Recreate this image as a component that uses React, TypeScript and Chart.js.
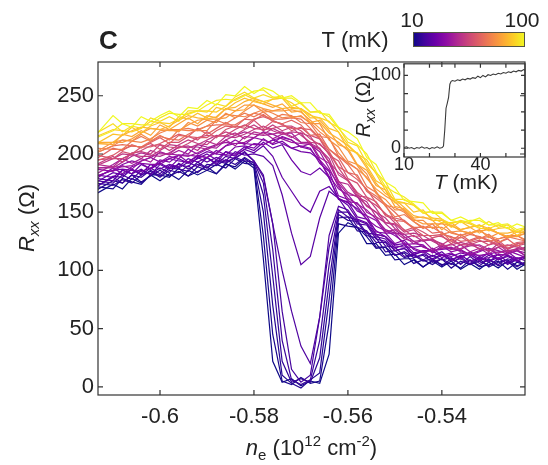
import React, { useEffect, useRef } from "react";
import { Chart, registerables } from "chart.js";

Chart.register(...registerables);

const FONT = '"Liberation Sans", Arial, Helvetica, sans-serif';
const TEXT = "#222222";
const AXIS = "#333333";

// ---------- data ----------
const NE = [
  -0.6135, -0.61, -0.608, -0.606, -0.604, -0.602, -0.6, -0.598, -0.596, -0.594,
  -0.592, -0.59, -0.588, -0.586, -0.584, -0.582, -0.58, -0.578, -0.576, -0.574,
  -0.572, -0.57, -0.568, -0.566, -0.564, -0.562, -0.56, -0.558, -0.556, -0.554,
  -0.552, -0.55, -0.548, -0.546, -0.544, -0.542, -0.54, -0.538, -0.536, -0.534,
  -0.532, -0.53, -0.528, -0.526, -0.524, -0.522,
];

const TEMPS = [10, 12, 14, 16, 18, 20, 22, 24, 26, 28, 30, 32, 35, 37, 40, 42, 45, 47, 50, 52, 55, 58, 61, 64, 67, 70, 73, 76, 79, 82, 85, 88, 91, 94, 97, 100];

const R10 = [166,174,170,179,175,182,177,183,178,186,182,186,183,192,187,194,188,110,22,4,7,1,5,3,28,132,141,137,123,123,113,114,105,109,103,108,103,108,101,106,101,107,102,108,101,106];
const R12 = [172,170,179,176,174,182,182,180,188,181,185,189,183,191,189,196,190,130,45,5,2,8,3,5,55,140,138,137,129,119,120,109,110,110,103,109,105,106,102,109,103,105,108,101,107,104];
const R14 = [169,177,175,182,176,181,186,181,185,181,189,186,191,188,196,192,191,150,70,10,3,-1,6,12,75,145,146,134,133,120,120,113,115,106,109,105,110,102,108,105,110,103,107,109,104,107];
const R16 = [175,173,178,175,182,185,180,186,184,190,184,191,190,195,191,197,192,165,95,22,4,7,4,25,90,148,143,142,130,128,116,117,111,113,108,110,104,110,106,109,104,110,104,107,103,108];
const R18 = [172,180,175,182,180,186,181,188,187,185,193,188,194,192,197,194,193,175,118,40,6,2,6,40,105,150,150,137,134,124,124,113,116,111,113,107,110,105,112,105,108,104,110,106,109,104];
const R20 = [177,175,182,178,186,183,188,184,192,187,191,188,195,193,197,201,194,182,140,65,15,4,10,60,120,152,146,143,132,131,121,120,112,114,109,113,109,111,105,112,106,109,105,110,108,105];
const R22 = [172,181,180,187,182,188,183,190,188,193,189,197,191,198,196,202,194,180,140,100,65,35,20,60,130,155,152,140,139,127,125,117,119,111,114,110,114,108,110,106,112,108,111,105,110,112];
const R24 = [179,177,186,183,187,182,191,187,191,189,197,193,197,194,202,199,200,198,190,165,132,105,112,145,168,162,150,143,140,129,127,117,119,114,116,109,113,109,113,108,111,107,114,107,111,108];
const R26 = [176,184,182,187,183,191,187,191,189,196,193,197,192,202,198,204,201,207,198,180,168,156,150,168,172,162,156,144,141,131,129,119,122,113,117,112,116,109,112,114,108,113,109,113,108,111];
const R28 = [182,180,186,183,191,187,192,188,196,192,196,200,195,202,200,206,203,210,205,208,195,185,182,188,180,161,159,146,144,131,129,122,123,115,117,117,111,114,111,115,110,115,109,112,108,113];
const R30 = [181,186,187,186,185,188,193,196,194,193,198,202,200,199,199,204,209,208,212,209,205,202,201,195,179,162,158,153,144,134,129,121,120,120,121,116,113,112,115,113,109,111,114,113,110,112];
const R32 = [179,188,183,189,192,187,195,193,199,193,199,197,203,199,206,207,205,213,208,211,205,207,205,192,185,164,161,151,147,133,132,123,126,118,115,119,113,115,110,116,112,115,110,116,110,113];
const R35 = [181,186,191,194,192,191,191,196,199,199,198,197,201,207,209,209,208,208,212,214,212,206,204,194,181,170,165,155,144,138,134,130,124,119,116,117,118,119,117,114,113,114,116,117,114,111];
const R37 = [187,185,190,187,194,197,193,198,196,204,200,204,200,207,212,208,214,212,209,215,212,206,209,195,186,174,159,158,147,143,132,132,122,123,122,115,121,116,118,113,116,119,113,114,117,112];
const R40 = [188,189,189,190,194,197,201,200,199,198,201,205,208,210,209,210,214,219,217,213,210,209,208,202,188,172,162,157,152,144,135,132,131,125,120,117,119,120,116,114,117,119,117,114,117,115];
const R42 = [183,191,196,192,196,193,202,199,203,200,208,206,205,212,207,215,214,219,213,217,218,210,210,197,192,175,165,164,150,146,133,135,129,123,126,118,122,118,122,116,119,114,120,115,118,112];
const R45 = [188,188,193,198,201,199,198,201,206,206,206,204,207,212,216,219,217,216,217,219,215,210,209,205,193,177,167,163,156,150,140,133,127,125,126,126,123,118,119,121,122,118,115,117,118,120];
const R47 = [191,189,196,200,196,203,200,200,206,207,203,211,208,215,218,213,219,217,222,218,214,218,208,204,196,176,174,163,159,146,141,139,128,130,125,127,119,123,118,123,121,116,123,116,119,117];
const R50 = [190,196,200,199,198,198,203,208,207,205,208,212,216,215,214,217,221,224,220,217,219,218,215,204,193,184,178,166,155,150,145,136,131,132,130,125,121,122,124,122,119,117,120,122,120,118];
const R52 = [191,198,193,201,202,200,208,203,208,212,209,208,215,219,216,221,225,220,225,220,223,216,210,209,200,182,177,164,163,153,141,140,133,135,126,127,122,127,122,124,118,122,124,118,122,117];
const R55 = [195,196,196,200,203,207,208,206,205,209,214,216,215,216,221,225,222,221,222,224,224,220,213,208,201,188,177,167,161,156,149,141,135,129,130,130,129,125,122,122,125,125,121,119,121,123];
const R58 = [199,196,202,200,206,209,204,210,210,215,212,219,214,221,224,222,229,222,228,226,220,223,216,213,199,194,179,175,163,159,147,144,134,137,133,128,130,123,129,124,126,122,126,119,123,124];
const R61 = [194,199,204,207,206,206,209,213,217,215,214,214,220,224,223,224,230,232,229,225,222,222,221,213,202,189,184,178,170,158,148,145,143,136,130,130,131,129,125,126,129,126,122,121,124,125];
const R64 = [196,205,203,208,205,210,214,209,216,215,222,217,222,227,223,230,229,234,228,226,229,225,216,217,204,197,184,182,168,162,156,143,142,136,138,132,133,125,131,125,128,129,124,127,121,125];
const R67 = [201,207,208,207,206,211,215,213,212,217,221,224,225,225,225,230,235,233,230,230,231,230,222,214,204,198,191,180,169,164,157,150,142,137,137,137,132,128,128,131,129,125,127,129,127,125];
const R70 = [205,204,204,211,215,211,216,212,221,222,220,220,229,226,231,235,232,236,230,234,233,227,226,215,214,198,193,187,172,167,155,146,148,142,136,140,131,133,130,133,127,131,124,128,130,125];
const R73 = [201,207,212,211,210,213,218,221,221,220,220,224,229,234,233,232,235,238,235,231,232,232,227,219,213,201,192,187,180,168,156,154,150,142,137,137,137,132,130,132,134,130,127,130,130,126];
const R76 = [202,210,212,211,217,212,220,221,219,227,224,229,227,235,231,237,242,236,237,239,231,233,226,226,212,206,194,191,183,166,161,152,152,143,143,136,141,133,134,132,135,128,132,128,130,132];
const R79 = [210,210,210,213,218,222,221,220,220,225,229,230,230,231,237,242,242,239,237,237,238,236,229,222,215,210,203,190,179,170,164,159,151,144,140,140,140,139,134,132,134,135,132,129,129,132];
const R82 = [209,208,217,215,220,216,225,221,226,231,226,233,231,239,237,238,246,243,240,243,236,237,227,229,220,208,205,191,186,173,169,155,153,145,146,143,135,141,135,137,132,137,132,129,133,132];
const R85 = [209,210,216,220,223,222,221,224,229,233,231,230,232,239,240,245,248,245,242,239,240,239,234,227,218,213,207,200,188,175,166,161,154,147,145,145,144,138,135,137,139,136,132,132,134,132];
const R88 = [209,217,216,223,218,224,227,223,232,230,235,231,240,238,244,248,245,243,247,248,239,239,231,231,222,219,204,201,190,177,172,158,158,150,152,143,143,137,142,137,139,134,136,137,130,135];
const R91 = [215,221,220,219,222,228,227,226,230,235,237,237,236,241,247,251,247,245,247,248,244,238,233,231,228,219,208,200,195,183,169,160,158,156,150,145,141,141,142,140,136,136,139,136,133,136];
const R94 = [218,226,219,224,222,231,228,232,228,237,237,236,243,241,249,253,248,251,248,250,241,244,236,237,227,223,210,207,192,184,176,161,161,156,149,151,144,140,143,141,137,142,137,139,133,137];
const R97 = [214,220,226,226,225,225,231,235,234,234,237,242,246,247,246,250,254,255,249,248,248,243,236,236,232,222,213,208,200,185,172,167,163,157,150,150,150,143,141,143,143,139,139,140,135,137];
const R100 = [217,233,226,223,232,228,233,237,232,240,239,246,242,251,250,258,252,257,254,248,250,244,244,235,234,223,219,213,197,191,176,171,160,159,158,149,149,143,146,142,145,139,141,136,140,137];

const SERIES = [R10, R12, R14, R16, R18, R20, R22, R24, R26, R28, R30, R32, R35, R37, R40, R42, R45, R47, R50, R52, R55, R58, R61, R64, R67, R70, R73, R76, R79, R82, R85, R88, R91, R94, R97, R100];

const X_TICKS = [-0.6, -0.58, -0.56, -0.54];
const X_TICK_LABELS = ["-0.6", "-0.58", "-0.56", "-0.54"];
const Y_TICKS = [0, 50, 100, 150, 200, 250];
const Y_TICK_LABELS = ["0", "50", "100", "150", "200", "250"];

const T_MIN = 10;
const T_MAX = 100;

// inset: R_xx at the dip centre vs temperature
const INSET_T = [10,11,12,13,14,15,16,17,18,19,20,21,22,23,24,25,25.5,26,26.5,27,27.5,28,28.5,29,30,31,32,33,34,35,36,37,38,39,40,41,42,43,44,45,46,47,48,49,50,51,52,53,54,55,56,57,57.5];
const INSET_R = [1,2,0,1,-1,1,0,2,0,1,-1,1,0,2,0,1,3,25,55,62,70,88,92,93,92,94,93,95,94,96,95,97,96,99,97,100,98,101,100,102,101,103,102,104,103,105,104,106,105,107,106,108,107];
const INSET_X_TICKS = [10, 40];
const INSET_X_MINOR = [20, 30, 50];
const INSET_Y_TICKS = [0, 100];
const INSET_Y_MINOR = [25, 50, 75];

// ---------- colour map ----------
const PLASMA = ["#0d0887", "#41049d", "#6a00a8", "#8f0da4", "#b12a90", "#cc4778", "#e16462", "#f2844b", "#fca636", "#fcce25", "#f0f921"];

function hexToRgb(h: string) {
  const n = parseInt(h.slice(1), 16);
  return [(n >> 16) & 255, (n >> 8) & 255, n & 255];
}
function plasma(t: number) {
  const c = Math.max(0, Math.min(1, t)) * (PLASMA.length - 1);
  const i = Math.min(PLASMA.length - 2, Math.floor(c));
  const f = c - i;
  const a = hexToRgb(PLASMA[i]);
  const b = hexToRgb(PLASMA[i + 1]);
  const m = a.map((v, k) => Math.round(v + (b[k] - v) * f));
  return `rgb(${m[0]},${m[1]},${m[2]})`;
}

// ---------- text helper ----------
type Part = { t: string; size: number; italic?: boolean; bold?: boolean; dy?: number };
function drawRich(ctx: any, parts: Part[], cx: number, baseY: number, rotate = false) {
  ctx.save();
  ctx.translate(cx, baseY);
  if (rotate) ctx.rotate(-Math.PI / 2);
  const fontOf = (p: Part) => `${p.italic ? "italic " : ""}${p.bold ? "bold " : ""}${p.size}px ${FONT}`;
  let total = 0;
  const widths = parts.map((p) => {
    ctx.font = fontOf(p);
    const w = ctx.measureText(p.t).width;
    total += w;
    return w;
  });
  let x = -total / 2;
  ctx.textBaseline = "alphabetic";
  ctx.textAlign = "left";
  ctx.fillStyle = TEXT;
  parts.forEach((p, i) => {
    ctx.font = fontOf(p);
    ctx.fillText(p.t, x, p.dy || 0);
    x += widths[i];
  });
  ctx.restore();
}

function drawTicks(ctx: any, chart: any, xs: number[], ys: number[], len: number) {
  const a = chart.chartArea;
  const sx = chart.scales.x;
  const sy = chart.scales.y;
  ctx.beginPath();
  for (const v of xs) {
    const px = sx.getPixelForValue(v);
    ctx.moveTo(px, a.bottom);
    ctx.lineTo(px, a.bottom - len);
    ctx.moveTo(px, a.top);
    ctx.lineTo(px, a.top + len);
  }
  for (const v of ys) {
    const py = sy.getPixelForValue(v);
    ctx.moveTo(a.left, py);
    ctx.lineTo(a.left + len, py);
    ctx.moveTo(a.right, py);
    ctx.lineTo(a.right - len, py);
  }
  ctx.stroke();
}

const mainDecor = {
  id: "mainDecor",
  afterDraw(chart: any) {
    const ctx = chart.ctx;
    const a = chart.chartArea;
    ctx.save();
    ctx.strokeStyle = AXIS;
    ctx.lineWidth = 1.2;
    ctx.strokeRect(a.left, a.top, a.right - a.left, a.bottom - a.top);
    drawTicks(ctx, chart, X_TICKS, Y_TICKS, 5);

    // panel letter
    ctx.fillStyle = TEXT;
    ctx.font = `bold 26px ${FONT}`;
    ctx.textAlign = "left";
    ctx.textBaseline = "alphabetic";
    ctx.fillText("C", 99, 49);

    // colour bar
    const cbX = 413, cbY = 32, cbW = 112, cbH = 15;
    const g = ctx.createLinearGradient(cbX, 0, cbX + cbW, 0);
    PLASMA.forEach((c, i) => g.addColorStop(i / (PLASMA.length - 1), c));
    ctx.fillStyle = g;
    ctx.fillRect(cbX, cbY, cbW, cbH);
    ctx.strokeStyle = "#555544";
    ctx.lineWidth = 1;
    ctx.strokeRect(cbX + 0.5, cbY + 0.5, cbW - 1, cbH - 1);
    ctx.fillStyle = TEXT;
    ctx.font = `21px ${FONT}`;
    ctx.textAlign = "center";
    ctx.fillText(String(T_MIN), 412, 27);
    ctx.fillText(String(T_MAX), 522, 27);
    ctx.font = `22px ${FONT}`;
    ctx.fillText("T (mK)", 355, 47);

    // axis titles
    drawRich(ctx, [
      { t: "n", size: 22, italic: true },
      { t: "e", size: 15, dy: 5 },
      { t: " (10", size: 22 },
      { t: "12", size: 15, dy: -9 },
      { t: " cm", size: 22 },
      { t: "-2", size: 15, dy: -9 },
      { t: ")", size: 22 },
    ], (a.left + a.right) / 2, 455);
    drawRich(ctx, [
      { t: "R", size: 22, italic: true },
      { t: "xx", size: 15, italic: true, dy: 5 },
      { t: " (Ω)", size: 22 },
    ], 34, 218, true);
    ctx.restore();
  },
};

const insetDecor = {
  id: "insetDecor",
  afterDraw(chart: any) {
    const ctx = chart.ctx;
    const a = chart.chartArea;
    ctx.save();
    ctx.strokeStyle = AXIS;
    ctx.lineWidth = 1.2;
    ctx.strokeRect(a.left, a.top, a.right - a.left, a.bottom - a.top);
    drawTicks(ctx, chart, [...INSET_X_TICKS, ...INSET_X_MINOR], [...INSET_Y_TICKS, ...INSET_Y_MINOR], 4);
    drawRich(ctx, [
      { t: "T", size: 21, italic: true },
      { t: " (mK)", size: 21 },
    ], 126, 139);
    drawRich(ctx, [
      { t: "R", size: 20, italic: true },
      { t: "xx", size: 14, italic: true, dy: 5 },
      { t: " (Ω)", size: 20 },
    ], 30, 56, true);
    ctx.restore();
  },
};

export default function App() {
  const mainRef = useRef<HTMLCanvasElement>(null);
  const insetRef = useRef<HTMLCanvasElement>(null);

  useEffect(() => {
    const datasets = SERIES.map((r, k) => ({
      label: `${TEMPS[k]} mK`,
      data: r.map((y, i) => ({ x: NE[i], y })),
      borderColor: plasma((TEMPS[k] - T_MIN) / (T_MAX - T_MIN)),
      borderWidth: 1.2,
      pointRadius: 0,
      tension: 0,
      fill: false,
      order: SERIES.length - k,
    }));

    const tickFont = { family: FONT, size: 22 };
    const main = new Chart(mainRef.current as HTMLCanvasElement, {
      type: "line",
      data: { datasets },
      options: {
        animation: false,
        responsive: false,
        maintainAspectRatio: false,
        devicePixelRatio: 1,
        layout: { padding: { left: 0, top: 62, right: 23, bottom: 0 } },
        plugins: { legend: { display: false }, tooltip: { enabled: false }, title: { display: false } },
        scales: {
          x: {
            type: "linear",
            min: -0.6132,
            max: -0.5223,
            grid: { display: false, drawTicks: false },
            border: { display: false },
            afterBuildTicks: (s: any) => { s.ticks = X_TICKS.map((v) => ({ value: v })); },
            afterFit: (s: any) => { s.height = 70; },
            ticks: {
              font: tickFont,
              color: TEXT,
              padding: 9,
              maxRotation: 0,
              autoSkip: false,
              callback: (_v: any, i: number) => X_TICK_LABELS[i],
            },
          },
          y: {
            type: "linear",
            min: -7,
            max: 279,
            grid: { display: false, drawTicks: false },
            border: { display: false },
            afterBuildTicks: (s: any) => { s.ticks = Y_TICKS.map((v) => ({ value: v })); },
            afterFit: (s: any) => { s.width = 98; },
            ticks: {
              font: tickFont,
              color: TEXT,
              padding: 4,
              autoSkip: false,
              callback: (_v: any, i: number) => Y_TICK_LABELS[i],
            },
          },
        },
      },
      plugins: [mainDecor],
    } as any);

    const insetFont = { family: FONT, size: 18 };
    const inset = new Chart(insetRef.current as HTMLCanvasElement, {
      type: "line",
      data: {
        datasets: [{
          label: "Rxx",
          data: INSET_T.map((t, i) => ({ x: t, y: INSET_R[i] })),
          borderColor: "#3a3a3a",
          borderWidth: 1.1,
          pointRadius: 0,
          tension: 0,
          fill: false,
        }],
      },
      options: {
        animation: false,
        responsive: false,
        maintainAspectRatio: false,
        devicePixelRatio: 1,
        layout: { padding: { left: 0, top: 12, right: 23, bottom: 0 } },
        plugins: { legend: { display: false }, tooltip: { enabled: false } },
        scales: {
          x: {
            type: "linear",
            min: 10,
            max: 57.5,
            grid: { display: false, drawTicks: false },
            border: { display: false },
            afterBuildTicks: (s: any) => { s.ticks = INSET_X_TICKS.map((v) => ({ value: v })); },
            afterFit: (s: any) => { s.height = 43; },
            ticks: { font: insetFont, color: TEXT, padding: -3, maxRotation: 0, autoSkip: false, callback: (_v: any, i: number) => String(INSET_X_TICKS[i]) },
          },
          y: {
            type: "linear",
            min: -12,
            max: 116,
            grid: { display: false, drawTicks: false },
            border: { display: false },
            afterBuildTicks: (s: any) => { s.ticks = INSET_Y_TICKS.map((v) => ({ value: v })); },
            afterFit: (s: any) => { s.width = 64; },
            ticks: { font: insetFont, color: TEXT, padding: 3, autoSkip: false, callback: (_v: any, i: number) => String(INSET_Y_TICKS[i]) },
          },
        },
      },
      plugins: [insetDecor],
    } as any);

    return () => {
      main.destroy();
      inset.destroy();
    };
  }, []);

  return (
    <div style={{ position: "absolute", left: 0, top: 0, width: 548, height: 465, background: "#fff" }}>
      <canvas ref={mainRef} width={548} height={465} style={{ position: "absolute", left: 0, top: 0, width: 548, height: 465 }} />
      <canvas ref={insetRef} width={208} height={150} style={{ position: "absolute", left: 340, top: 50, width: 208, height: 150 }} />
    </div>
  );
}
